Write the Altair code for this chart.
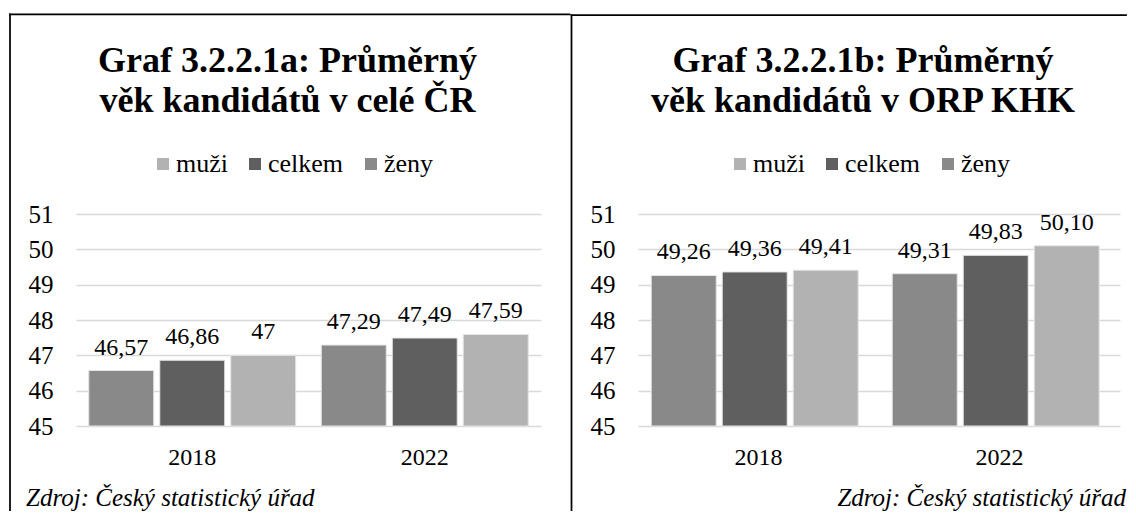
import altair as alt
import pandas as pd

FONT = "Liberation Serif"

years = ["2018", "2022"]
bar_order = ["ženy", "celkem", "muži"]
legend_order = ["muži", "celkem", "ženy"]
legend_colors = ["#b2b2b2", "#5f5f5f", "#898989"]

# Graf 3.2.2.1a – celá ČR
cr_zeny = [46.57, 47.29]
cr_celkem = [46.86, 47.49]
cr_muzi = [47.00, 47.59]
cr_zeny_lbl = ["46,57", "47,29"]
cr_celkem_lbl = ["46,86", "47,49"]
cr_muzi_lbl = ["47", "47,59"]

# Graf 3.2.2.1b – ORP KHK
orp_zeny = [49.26, 49.31]
orp_celkem = [49.36, 49.83]
orp_muzi = [49.41, 50.10]
orp_zeny_lbl = ["49,26", "49,31"]
orp_celkem_lbl = ["49,36", "49,83"]
orp_muzi_lbl = ["49,41", "50,10"]

y_ticks = [45, 46, 47, 48, 49, 50, 51]

title_a = ["Graf 3.2.2.1a: Průměrný", "věk kandidátů v celé ČR"]
title_b = ["Graf 3.2.2.1b: Průměrný", "věk kandidátů v ORP KHK"]
source = "Zdroj: Český statistický úřad"


def make_df(z, c, m, zl, cl, ml):
    rows = []
    for i, yr in enumerate(years):
        rows.append({"year": yr, "series": "ženy", "value": z[i], "label": zl[i]})
        rows.append({"year": yr, "series": "celkem", "value": c[i], "label": cl[i]})
        rows.append({"year": yr, "series": "muži", "value": m[i], "label": ml[i]})
    return pd.DataFrame(rows)


def panel(df, titles, w, leg_x, title_x, src_x, src_align, bx1, bx2, top_y):
    h = 212
    base = alt.Chart(df)
    x = alt.X("year:N", sort=years,
              scale=alt.Scale(paddingInner=0.11, paddingOuter=0.055),
              axis=alt.Axis(title=None, labelAngle=0, domain=False, ticks=False,
                            labelFontSize=24, labelPadding=19, labelColor="black",
                            labelFont=FONT))
    xo = alt.XOffset("series:N", sort=bar_order,
                     scale=alt.Scale(paddingInner=0.085, paddingOuter=0))
    y = alt.Y("value:Q",
              scale=alt.Scale(domain=[45, 51], zero=False, nice=False),
              axis=alt.Axis(title=None, values=y_ticks, grid=True, gridColor="#d9d9d9",
                            gridWidth=1.3, domain=False, ticks=False, labelFontSize=25,
                            labelPadding=23, labelColor="black", labelFont=FONT))
    color = alt.Color("series:N",
                      scale=alt.Scale(domain=legend_order, range=legend_colors),
                      legend=alt.Legend(orient="none", legendX=leg_x, legendY=-63,
                                        direction="horizontal", title=None,
                                        symbolType="square", symbolSize=144,
                                        symbolStrokeWidth=0, labelFontSize=26,
                                        labelFont=FONT, labelColor="black",
                                        labelOffset=0, columnPadding=14, padding=0))
    bars = base.mark_bar(stroke="#e4e4e4", strokeWidth=1).encode(
        x=x, xOffset=xo, y=y, y2=alt.datum(45), color=color)
    labels = base.mark_text(baseline="alphabetic", dy=-16, fontSize=24, font=FONT,
                            color="black").encode(x=x, xOffset=xo, y=y, text="label:N")

    one = pd.DataFrame({"t1": [titles[0]], "t2": [titles[1]], "s": [source]})
    t1 = alt.Chart(one).mark_text(font=FONT, fontSize=36, fontWeight="bold",
                                  baseline="alphabetic", align="center", color="black").encode(
        x=alt.value(title_x), y=alt.value(-141.7), text="t1:N")
    t2 = alt.Chart(one).mark_text(font=FONT, fontSize=36, fontWeight="bold",
                                  baseline="alphabetic", align="center", color="black").encode(
        x=alt.value(title_x), y=alt.value(-101.7), text="t2:N")
    src = alt.Chart(one).mark_text(font=FONT, fontSize=25, fontStyle="italic",
                                   baseline="alphabetic", align=src_align, color="black").encode(
        x=alt.value(src_x), y=alt.value(292), text="s:N")

    rule_style = dict(color="black", strokeWidth=1.75, strokeCap="square")
    top = alt.Chart(one).mark_rule(**rule_style).encode(
        x=alt.value(bx1), x2=alt.value(bx2), y=alt.value(top_y))
    left = alt.Chart(one).mark_rule(**rule_style).encode(
        x=alt.value(bx1), y=alt.value(top_y), y2=alt.value(296))
    layers = [bars, labels, t1, t2, src, top, left]
    if bx2 < 480:
        right = alt.Chart(one).mark_rule(**rule_style).encode(
            x=alt.value(bx2), y=alt.value(top_y), y2=alt.value(296))
        layers.append(right)
    return alt.layer(*layers).properties(width=w, height=h)


df_a = make_df(cr_zeny, cr_celkem, cr_muzi, cr_zeny_lbl, cr_celkem_lbl, cr_muzi_lbl)
df_b = make_df(orp_zeny, orp_celkem, orp_muzi, orp_zeny_lbl, orp_celkem_lbl, orp_muzi_lbl)

left_panel = panel(df_a, title_a, 465, 74, 211.5, -50, "left", -66, 493.5, -199.7)
right_panel = panel(df_b, title_b, 482, 89, 225, 488, "right", -66.5, 488, -199)

chart = alt.hconcat(left_panel, right_panel, spacing=97, bounds="flush").resolve_scale(
    color="independent").properties(
    padding={"left": 0, "top": 5, "right": 0, "bottom": 0}
).configure(background="white", font=FONT).configure_view(strokeWidth=0).configure_axis(
    labelFont=FONT).configure_legend(labelFont=FONT).configure_text(font=FONT)

chart.save("out.html", embed_options={"renderer": "svg", "actions": False})
